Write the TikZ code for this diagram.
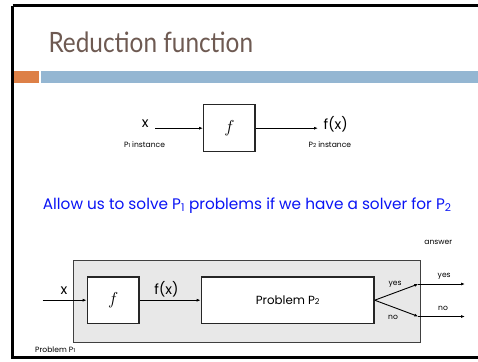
\documentclass[tikz,border=0pt]{standalone}
\usepackage{fontspec}
\setmainfont{Poppins}
\newfontfamily\titlefont{Lato}
\usetikzlibrary{arrows.meta}
\definecolor{titlec}{HTML}{6E5A52}
\definecolor{barorange}{HTML}{DD8047}
\definecolor{barblue}{HTML}{94B6D2}
\definecolor{boxgray}{HTML}{E8E8E8}
\definecolor{textblue}{HTML}{0A14F5}
\tikzset{
  arr/.style={draw=black, line width=0.9pt, -{Latex[length=4pt,width=3pt]}},
  fbox/.style={draw=black!85, line width=1.3pt, fill=white, inner sep=0pt},
  lbl/.style={inner sep=0pt, text=black},
  small/.style={lbl, font=\fontsize{7.6}{8}\selectfont, text=black},
}
\begin{document}
\begin{tikzpicture}[x=1pt,y=-1pt]
\useasboundingbox (0,0) rectangle (478,361);
\fill[white] (0,0) rectangle (478,361);
% frame
\draw[line width=2.6pt, black] (12.5,5.8) -- (490,5.8);
\draw[line width=2.6pt, black] (12.5,5.8) -- (12.5,357.5) -- (490,357.5);
% title
\node[anchor=base west, inner sep=0pt, text=titlec, font=\titlefont\fontsize{28}{30}\selectfont] (title) at (48.3,52.3) {\scalebox{0.87}[1]{Reduction function}};
% bars
\fill[barorange] (13.8,70.7) rectangle (39,82.7);
\fill[barblue] (41,70.7) rectangle (478,82.7);
% top diagram
\node[fbox, minimum width=51.3pt, minimum height=47pt] (ftop) at (229.35,128.2) {\fontsize{16}{16}\selectfont$f$};
\node[lbl, font=\fontsize{14}{14}\selectfont] (xtop) at (145.3,124) {x};
\coordinate (xtopend) at (155,128.2);
\node[lbl, anchor=west, font=\fontsize{14}{14}\selectfont] (fxtop) at (323.5,124) {f(x)};
\coordinate (fxtopend) at (318,128.2);
\draw[arr] (xtopend) -- (ftop.west);
\draw[arr] (ftop.east) -- (fxtopend);
\node[small] (p1inst) at (144.5,145) {P{\fontsize{5.5}{6}\selectfont 1} instance};
\node[small, anchor=west] (p2inst) at (308.5,145) {P{\fontsize{5.5}{6}\selectfont 2} instance};
% blue sentence
\node[anchor=base west, inner sep=0pt, text=textblue, font=\fontsize{15.3}{16}\selectfont] (claim) at (42.7,209) {Allow us to solve P\textsubscript{1} problems if we have a solver for P\textsubscript{2}};
% bottom diagram
\fill[boxgray, draw=black!75, line width=1pt] (73.3,260) rectangle (420.7,342);
\node[fbox, minimum width=51.7pt, minimum height=46.3pt] (fbot) at (113.2,300.2) {\fontsize{16}{16}\selectfont$f$};
\node[fbox, minimum width=172.7pt, minimum height=46.3pt, font=\fontsize{11.8}{12}\selectfont] (p2) at (287.7,300.2) {Problem P{\fontsize{8}{9}\selectfont 2}};
\coordinate (xin) at (42.7,300.2);
\node[lbl, font=\fontsize{14}{14}\selectfont] (xbot) at (64,290.5) {x};
\node[lbl, font=\fontsize{14}{14}\selectfont] (fxbot) at (166.5,289.5) {f(x)};
\draw[arr] (xin) -- (fbot.west);
\draw[arr] (fbot.east) -- (p2.west);
\coordinate (yesmid) at (418.3,284);
\coordinate (nomid) at (418.3,316.5);
\coordinate (yesend) at (465,284);
\coordinate (noend) at (465,316.5);
\draw[arr] (p2.east) -- (yesmid);
\draw[arr] (p2.east) -- (nomid);
\draw[arr] (yesmid) -- (yesend);
\draw[arr] (nomid) -- (noend);
\node[small] (yesin) at (395,284.3) {yes};
\node[small] (noin) at (393,317.2) {no};
\node[small] (yesout) at (444.2,276.5) {yes};
\node[small] (noout) at (443,308.5) {no};
\node[small] (answer) at (438.3,242.5) {answer};
\node[small, anchor=west] (p1lbl) at (35,350) {Problem P{\fontsize{5.5}{6}\selectfont 1}};
\end{tikzpicture}
\end{document}
